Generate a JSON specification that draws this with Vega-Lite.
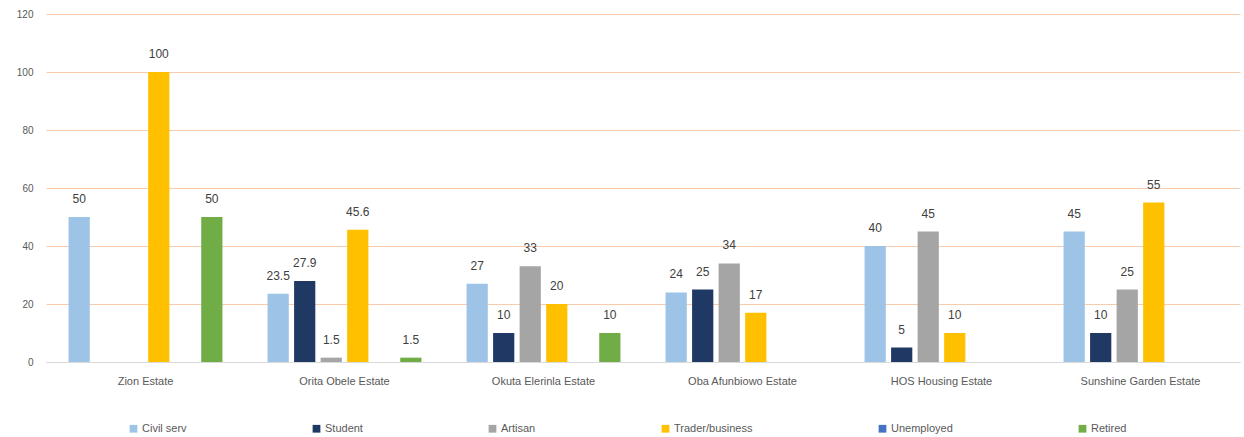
{
  "$schema": "https://vega.github.io/schema/vega-lite/v6.json",
  "width": 1194,
  "height": 348,
  "autosize": {"type": "none"},
  "padding": {"left": 46, "top": 14, "right": 4, "bottom": 75},
  "background": "white",
  "config": {
    "view": {"stroke": null},
    "font": "Liberation Sans"
  },
  "data": {
    "values": [
      {"estate": "Zion Estate", "occupation": "Civil serv", "value": 50},
      {"estate": "Zion Estate", "occupation": "Trader/business", "value": 100},
      {"estate": "Zion Estate", "occupation": "Retired", "value": 50},
      {"estate": "Orita Obele Estate", "occupation": "Civil serv", "value": 23.5},
      {"estate": "Orita Obele Estate", "occupation": "Student", "value": 27.9},
      {"estate": "Orita Obele Estate", "occupation": "Artisan", "value": 1.5},
      {"estate": "Orita Obele Estate", "occupation": "Trader/business", "value": 45.6},
      {"estate": "Orita Obele Estate", "occupation": "Retired", "value": 1.5},
      {"estate": "Okuta Elerinla Estate", "occupation": "Civil serv", "value": 27},
      {"estate": "Okuta Elerinla Estate", "occupation": "Student", "value": 10},
      {"estate": "Okuta Elerinla Estate", "occupation": "Artisan", "value": 33},
      {"estate": "Okuta Elerinla Estate", "occupation": "Trader/business", "value": 20},
      {"estate": "Okuta Elerinla Estate", "occupation": "Retired", "value": 10},
      {"estate": "Oba Afunbiowo Estate", "occupation": "Civil serv", "value": 24},
      {"estate": "Oba Afunbiowo Estate", "occupation": "Student", "value": 25},
      {"estate": "Oba Afunbiowo Estate", "occupation": "Artisan", "value": 34},
      {"estate": "Oba Afunbiowo Estate", "occupation": "Trader/business", "value": 17},
      {"estate": "HOS Housing Estate", "occupation": "Civil serv", "value": 40},
      {"estate": "HOS Housing Estate", "occupation": "Student", "value": 5},
      {"estate": "HOS Housing Estate", "occupation": "Artisan", "value": 45},
      {"estate": "HOS Housing Estate", "occupation": "Trader/business", "value": 10},
      {"estate": "Sunshine Garden Estate", "occupation": "Civil serv", "value": 45},
      {"estate": "Sunshine Garden Estate", "occupation": "Student", "value": 10},
      {"estate": "Sunshine Garden Estate", "occupation": "Artisan", "value": 25},
      {"estate": "Sunshine Garden Estate", "occupation": "Trader/business", "value": 55}
    ]
  },
  "encoding": {
    "x": {
      "field": "estate",
      "type": "nominal",
      "sort": ["Zion Estate", "Orita Obele Estate", "Okuta Elerinla Estate", "Oba Afunbiowo Estate", "HOS Housing Estate", "Sunshine Garden Estate"],
      "scale": {"paddingInner": 0.2, "paddingOuter": 0.1},
      "axis": {
        "title": null,
        "labelAngle": 0,
        "ticks": false,
        "domainColor": "#D9D9D9",
        "domainWidth": 1,
        "labelColor": "#595959",
        "labelFontSize": 11,
        "labelPadding": 13
      }
    },
    "xOffset": {
      "field": "occupation",
      "type": "nominal",
      "sort": ["Civil serv", "Student", "Artisan", "Trader/business", "Unemployed", "Retired"],
      "scale": {
        "domain": ["Civil serv", "Student", "Artisan", "Trader/business", "Unemployed", "Retired"],
        "paddingInner": 0.2,
        "paddingOuter": 0.1
      }
    },
    "y": {
      "field": "value",
      "type": "quantitative",
      "scale": {"domain": [0, 120], "nice": false},
      "axis": {
        "title": null,
        "values": [0, 20, 40, 60, 80, 100, 120],
        "domain": false,
        "ticks": false,
        "gridColor": "#F8CBAD",
        "gridWidth": 1,
        "labelColor": "#595959",
        "labelFontSize": 10,
        "labelPadding": 13
      }
    }
  },
  "layer": [
    {
      "mark": {"type": "bar"},
      "encoding": {
        "color": {
          "field": "occupation",
          "type": "nominal",
          "scale": {
            "domain": ["Civil serv", "Student", "Artisan", "Trader/business", "Unemployed", "Retired"],
            "range": ["#9DC3E6", "#203864", "#A5A5A5", "#FFC000", "#4472C4", "#70AD47"]
          },
          "legend": {
            "title": null,
            "orient": "none",
            "direction": "horizontal",
            "columns": 6,
            "gridAlign": "each",
            "columnPadding": 124,
            "legendX": 82,
            "legendY": 409,
            "padding": 0,
            "symbolType": "square",
            "symbolSize": 60,
            "symbolStrokeWidth": 0,
            "labelColor": "#595959",
            "labelFontSize": 11,
            "labelOffset": 3
          }
        }
      }
    },
    {
      "mark": {"type": "text", "baseline": "bottom", "dy": -11, "fontSize": 12, "color": "#404040"},
      "encoding": {
        "text": {"field": "value", "type": "quantitative", "format": ".1~f"}
      }
    }
  ]
}
